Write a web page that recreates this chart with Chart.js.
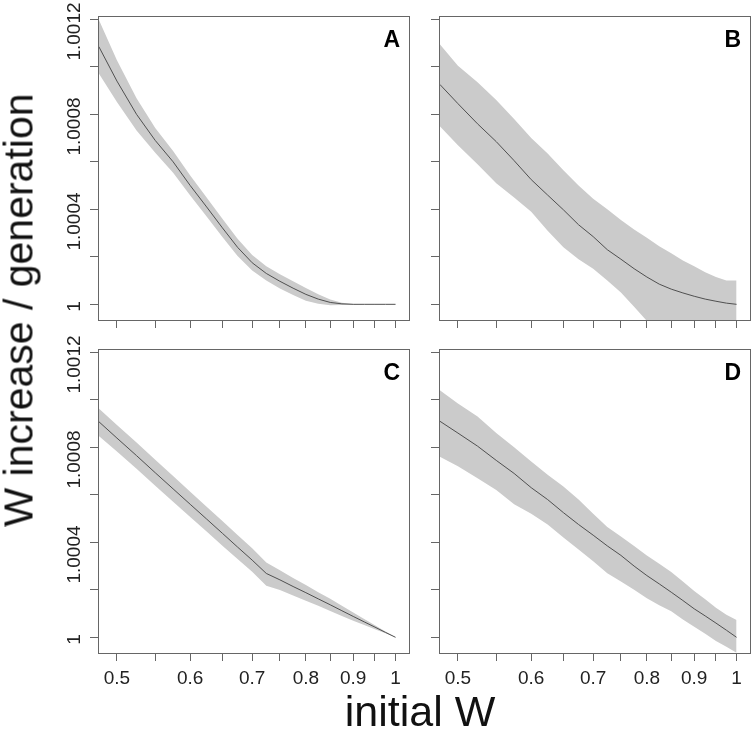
<!DOCTYPE html>
<html>
<head>
<meta charset="utf-8">
<script src="https://cdn.jsdelivr.net/npm/chart.js@4.4.0/dist/chart.umd.min.js"></script>
<style>
body{margin:0;background:#fff;width:756px;height:739px;position:relative;overflow:hidden;font-family:"Liberation Sans",Arial,sans-serif;color:#111}
canvas{position:absolute}
#ylab{position:absolute;left:19px;top:310px;font-size:41px;line-height:1;white-space:nowrap;transform:translate(-50%,-50%) rotate(-90deg)}
#xlab{position:absolute;left:420px;top:690px;font-size:43px;line-height:1;white-space:nowrap;transform:translateX(-50%)}
</style>
</head>
<body>
<canvas id="pA" width="386" height="365" style="left:28px;top:0px"></canvas>
<canvas id="pB" width="386" height="365" style="left:369px;top:0px"></canvas>
<canvas id="pC" width="386" height="365" style="left:28px;top:333px"></canvas>
<canvas id="pD" width="386" height="365" style="left:369px;top:333px"></canvas>
<div id="ylab">W increase / generation</div>
<div id="xlab">initial W</div>
<script>
// initial W values (same for all panels)
const initialW = [0.478, 0.5, 0.525, 0.55, 0.575, 0.6, 0.625, 0.65, 0.675, 0.7, 0.725, 0.75, 0.775, 0.8, 0.825, 0.85, 0.875, 0.9, 0.925, 0.95, 0.975, 1];

// panel A
const meanA  = [1.001085, 1.00094, 1.0008, 1.00069, 1.0006, 1.0005, 1.00041, 1.000322, 1.00024, 1.000175, 1.00013, 1.000097, 1.000068, 1.000042, 1.000022, 1.000008, 1.000002, 1, 1, 1, 1, 1];
const upperA = [1.001198, 1.001028, 1.000868, 1.000742, 1.000646, 1.000542, 1.00045, 1.00036, 1.000276, 1.000208, 1.00016, 1.000127, 1.000097, 1.000069, 1.000042, 1.00002, 1.000007, 1.000001, 1, 1, 1, 1];
const lowerA = [1.000972, 1.000852, 1.000732, 1.000638, 1.000554, 1.000458, 1.00037, 1.000284, 1.000204, 1.000142, 1.0001, 1.000067, 1.000039, 1.000015, 1.000002, 0.999996, 0.999997, 0.999999, 1, 1, 1, 1];

// panel B
const meanB  = [1.000926, 1.000845, 1.00076, 1.000685, 1.000605, 1.000525, 1.00046, 1.000398, 1.000335, 1.000285, 1.00023, 1.00019, 1.00015, 1.000115, 1.000085, 1.000064, 1.000048, 1.000034, 1.000022, 1.000013, 1.000005, 1];
const upperB = [1.001095, 1.001005, 1.000935, 1.00086, 1.00078, 1.0007, 1.000635, 1.000565, 1.0005, 1.000445, 1.0004, 1.000355, 1.000315, 1.00028, 1.000245, 1.000215, 1.000185, 1.00016, 1.000135, 1.000115, 1.0001, 1.0001];
const lowerB = [1.00075, 1.00067, 1.00059, 1.00051, 1.00045, 1.00039, 1.00031, 1.00024, 1.00019, 1.00015, 1.0001, 1.00005, 0.99999, 0.99993, 0.99992, 0.999915, 0.99991, 0.999905, 0.9999, 0.9999, 0.9999, 0.9999];

// panel C
const meanC  = [1.000908, 1.000839, 1.000765, 1.000693, 1.000625, 1.00056, 1.000498, 1.000438, 1.00038, 1.000325, 1.000269, 1.000242, 1.000214, 1.000188, 1.000162, 1.000137, 1.000112, 1.000088, 1.000065, 1.000043, 1.000021, 1];
const upperC = [1.000964, 1.000894, 1.00082, 1.000748, 1.000679, 1.000613, 1.00055, 1.00049, 1.000431, 1.000375, 1.000315, 1.000282, 1.00025, 1.00022, 1.00019, 1.000162, 1.000133, 1.000105, 1.000077, 1.000051, 1.000025, 1];
const lowerC = [1.000848, 1.000782, 1.00071, 1.000638, 1.000571, 1.000507, 1.000446, 1.000386, 1.00033, 1.000276, 1.000217, 1.000199, 1.000176, 1.000154, 1.000133, 1.000111, 1.00009, 1.00007, 1.000052, 1.000034, 1.000017, 1];

// panel D
const meanD  = [1.00091, 1.00086, 1.000805, 1.000745, 1.00069, 1.00063, 1.00058, 1.000525, 1.000475, 1.00043, 1.000385, 1.000345, 1.0003, 1.00026, 1.000225, 1.00019, 1.000155, 1.00012, 1.00009, 1.00006, 1.00003, 1];
const upperD = [1.00104, 1.000985, 1.00093, 1.00086, 1.0008, 1.00074, 1.000685, 1.000635, 1.00058, 1.00052, 1.000465, 1.000425, 1.000385, 1.000345, 1.00031, 1.000275, 1.000235, 1.000195, 1.00016, 1.000125, 1.000095, 1.000073];
const lowerD = [1.00076, 1.00072, 1.00067, 1.00062, 1.00056, 1.00052, 1.000475, 1.00042, 1.00037, 1.00032, 1.00027, 1.000235, 1.0002, 1.000165, 1.000135, 1.00011, 1.000075, 1.000045, 1.000015, 0.999985, 0.99996, 0.999935];

// axes
const xTickValues = [0.5, 0.55, 0.6, 0.65, 0.7, 0.75, 0.8, 0.85, 0.9, 0.95, 1];
const xTickLabels = ["0.5", "", "0.6", "", "0.7", "", "0.8", "", "0.9", "", "1"];
const yTickValues = [1, 1.0002, 1.0004, 1.0006, 1.0008, 1.001, 1.0012];
const yTickLabels = ["1", "", "1.0004", "", "1.0008", "", "1.0012"];
const xMin = 0.477, xMax = 1.034;
const yMin = 0.999934, yMax = 1.001214;

Chart.defaults.font.family = '"Liberation Sans", Arial, sans-serif';

const axisColor = "#666";

// box round the plot, panel letter, rotated y tick labels
const panelDecor = {
  id: "panelDecor",
  afterDraw(chart, args, opts) {
    const ctx = chart.ctx, a = chart.chartArea;
    ctx.save();
    ctx.strokeStyle = axisColor;
    ctx.lineWidth = 1;
    ctx.strokeRect(a.left + 0.5, a.top + 0.5, a.width, a.height);

    ctx.fillStyle = "#000";
    ctx.font = 'bold 23px "Liberation Sans", Arial, sans-serif';
    ctx.textAlign = "right";
    ctx.textBaseline = "alphabetic";
    ctx.fillText(opts.letter, a.right - 9, a.top + 31);

    if (opts.yLabels) {
      const ys = chart.scales.y;
      ctx.font = '19px "Liberation Sans", Arial, sans-serif';
      ctx.fillStyle = "#222";
      ctx.textAlign = "left";
      yTickValues.forEach((v, i) => {
        const lab = yTickLabels[i];
        if (!lab) return;
        const w = ctx.measureText(lab).width;
        ctx.save();
        ctx.translate(a.left - 18, ys.getPixelForValue(v));
        ctx.rotate(-Math.PI / 2);
        ctx.fillText(lab, -0.71 * w, 0);
        ctx.restore();
      });
    }
    ctx.restore();
  }
};

function pts(ys) {
  return initialW.map((x, i) => ({ x: x, y: ys[i] }));
}

function makePanel(id, letter, mean, upper, lower, showX, showY) {
  return new Chart(document.getElementById(id), {
    type: "line",
    data: {
      datasets: [
        { data: pts(mean), borderColor: "#505050", borderWidth: 1, pointRadius: 0, fill: false, tension: 0 },
        { data: pts(upper), borderWidth: 0, borderColor: "rgba(0,0,0,0)", pointRadius: 0, fill: "+1", backgroundColor: "#cbcbcb", tension: 0 },
        { data: pts(lower), borderWidth: 0, borderColor: "rgba(0,0,0,0)", pointRadius: 0, fill: false, tension: 0 }
      ]
    },
    options: {
      responsive: false,
      animation: false,
      events: [],
      layout: { autoPadding: false, padding: { top: 16, right: 5, left: 0, bottom: 0 } },
      plugins: {
        legend: { display: false },
        tooltip: { enabled: false },
        panelDecor: { letter: letter, yLabels: showY }
      },
      scales: {
        x: {
          type: "logarithmic",
          min: xMin,
          max: xMax,
          afterBuildTicks: s => { s.ticks = xTickValues.map(v => ({ value: v })); },
          afterFit: s => { s.height = 45; },
          grid: { drawOnChartArea: false, drawTicks: true, tickLength: 8, color: axisColor },
          border: { display: false },
          ticks: {
            display: showX,
            autoSkip: false,
            maxRotation: 0,
            minRotation: 0,
            padding: 6,
            color: "#222",
            font: { size: 19 },
            callback: (v, i) => xTickLabels[i]
          }
        },
        y: {
          type: "linear",
          min: yMin,
          max: yMax,
          afterBuildTicks: s => { s.ticks = yTickValues.map(v => ({ value: v })); },
          afterFit: s => { s.width = 70; },
          grid: { drawOnChartArea: false, drawTicks: true, tickLength: 8, color: axisColor },
          border: { display: false },
          ticks: { display: false }
        }
      }
    },
    plugins: [panelDecor]
  });
}

makePanel("pA", "A", meanA, upperA, lowerA, false, true);
makePanel("pB", "B", meanB, upperB, lowerB, false, false);
makePanel("pC", "C", meanC, upperC, lowerC, true, true);
makePanel("pD", "D", meanD, upperD, lowerD, true, false);
</script>
</body>
</html>
